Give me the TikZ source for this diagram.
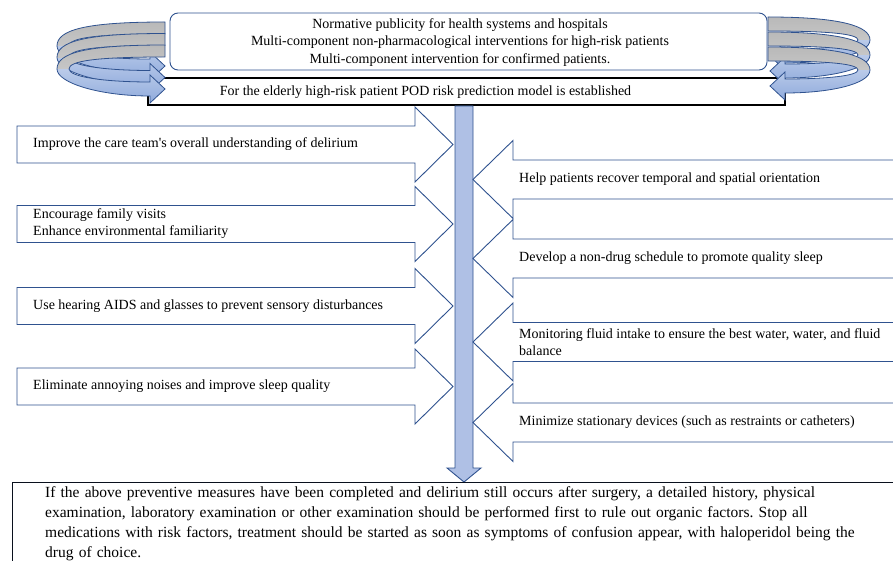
\documentclass[tikz,border=0pt]{standalone}
\usepackage{fontspec}
\setmainfont{Liberation Serif}
\frenchspacing
\definecolor{arrowblue}{HTML}{2F528F}
\definecolor{shaftblue}{HTML}{AFC0E5}
\definecolor{bandlight}{HTML}{DAE3F3}
\definecolor{banddark}{HTML}{8FAADC}
\tikzset{
  blockarrow/.style={draw=arrowblue,line width=.9pt,fill=white},
  armtext/.style={inner sep=0pt,anchor=west,align=left,font=\fontsize{14}{17}\selectfont},
  bandline/.style={draw=arrowblue,line width=.8pt},
}
\begin{document}
\begin{tikzpicture}[x=1pt,y=-1pt,line join=miter]
\clip (0,0) rectangle (893,561);
% top boxes
\draw[arrowblue,line width=.9pt,fill=white,rounded corners=8pt] (170,13) rectangle (767,70);
\node[inner sep=0pt,align=center,font=\fontsize{14}{17.5}\selectfont] (measures) at (460,42.5)
  {Normative publicity for health systems and hospitals\\
   Multi-component non-pharmacological interventions for high-risk patients\\
   Multi-component intervention for confirmed patients.};
\draw[black,line width=1.2pt,fill=white] (148,78) rectangle (785,105);
\node[inner sep=0pt,font=\fontsize{14}{17}\selectfont] (model) at (425.5,92)
  {For the elderly high-risk patient POD risk prediction model is established};
% circular arrows, left
\foreach \i in {0,1,2}{
  \pgfmathsetmacro\d{11.5*\i}
  \def\leftband{(165,22+\d) .. controls (85,22+\d) and (57,30+\d) .. (57,46+\d)
    .. controls (57,60+\d) and (100,73+\d) .. (150,73+\d) -- (150,80+\d) -- (165,66+\d)
    -- (150,52+\d) -- (150,59+\d) .. controls (105,59+\d) and (69,54+\d) .. (69,46+\d)
    .. controls (69,38+\d) and (95,34+\d) .. (165,34+\d) -- cycle}
  \shade[top color=bandlight,bottom color=banddark] \leftband;
  \begin{scope}
    \clip (0,0) rectangle (893,46+\d);
    \shade[top color=gray!55,bottom color=gray!30] \leftband;
  \end{scope}
  \draw[bandline] \leftband;
}
% circular arrows, right
\foreach \i in {0,1,2}{
  \pgfmathsetmacro\d{15*\i}
  \def\rightband{(768,17+\d) .. controls (840,17+\d) and (870,26+\d) .. (870,40+\d)
    .. controls (870,54+\d) and (830,63+\d) .. (785,63+\d) -- (785,70+\d) -- (770,56+\d)
    -- (785,42+\d) -- (785,49+\d) .. controls (825,49+\d) and (858,46+\d) .. (858,40+\d)
    .. controls (858,34+\d) and (830,31+\d) .. (768,31+\d) -- cycle}
  \shade[top color=bandlight,bottom color=banddark] \rightband;
  \begin{scope}
    \clip (0,0) rectangle (893,40+\d);
    \shade[top color=gray!55,bottom color=gray!30] \rightband;
  \end{scope}
  \draw[bandline] \rightband;
}
% main shaft
\filldraw[fill=shaftblue,draw=arrowblue,line width=.9pt] (455,106) -- (473,106) -- (473,468)
  -- (481,468) -- (464,482) -- (447,468) -- (455,468) -- cycle;
% left arms
\foreach \c/\n/\t in {144.5/l1/{Improve the care team\textquotesingle s overall understanding of delirium},
    224/l2/{Encourage family visits\\Enhance environmental familiarity},
    306/l3/{Use hearing AIDS and glasses to prevent sensory disturbances},
    386.5/l4/{Eliminate annoying noises and improve sleep quality}}{
  \draw[blockarrow] (17,\c-18.5) -- (415,\c-18.5) -- (415,\c-37.5) -- (453,\c)
    -- (415,\c+37.5) -- (415,\c+18.5) -- (17,\c+18.5) -- cycle;
  \node[armtext] (\n) at (33,\c) {\t};
}
% right arms
\foreach \c/\n/\t in {179.5/r1/{Help patients recover temporal and spatial orientation},
    258.5/r2/{Develop a non-drug schedule to promote quality sleep},
    342/r3/{Monitoring fluid intake to ensure the best water, water, and fluid\\balance},
    422.5/r4/{Minimize stationary devices (such as restraints or catheters)}}{
  \draw[blockarrow] (900,\c-19.5) -- (513,\c-19.5) -- (513,\c-39) -- (473,\c)
    -- (513,\c+39) -- (513,\c+19.5) -- (900,\c+19.5) -- cycle;
  \node[armtext] (\n) at (519,\c) {\t};
}
% bottom box
\draw[black!80!arrowblue,line width=.8pt] (12,482) rectangle (905,600);
\node[anchor=north west,inner sep=0pt,text width=880pt,align=left,
  font=\fontsize{15.5}{20}\selectfont] (final) at (45,486)
  {If the above preventive measures have been completed and delirium still occurs after surgery, a detailed history, physical\\
   examination, laboratory examination or other examination should be performed first to rule out organic factors. Stop all\\
   medications with risk factors, treatment should be started as soon as symptoms of confusion appear, with haloperidol being the\\
   drug of choice.};
\end{tikzpicture}
\end{document}
